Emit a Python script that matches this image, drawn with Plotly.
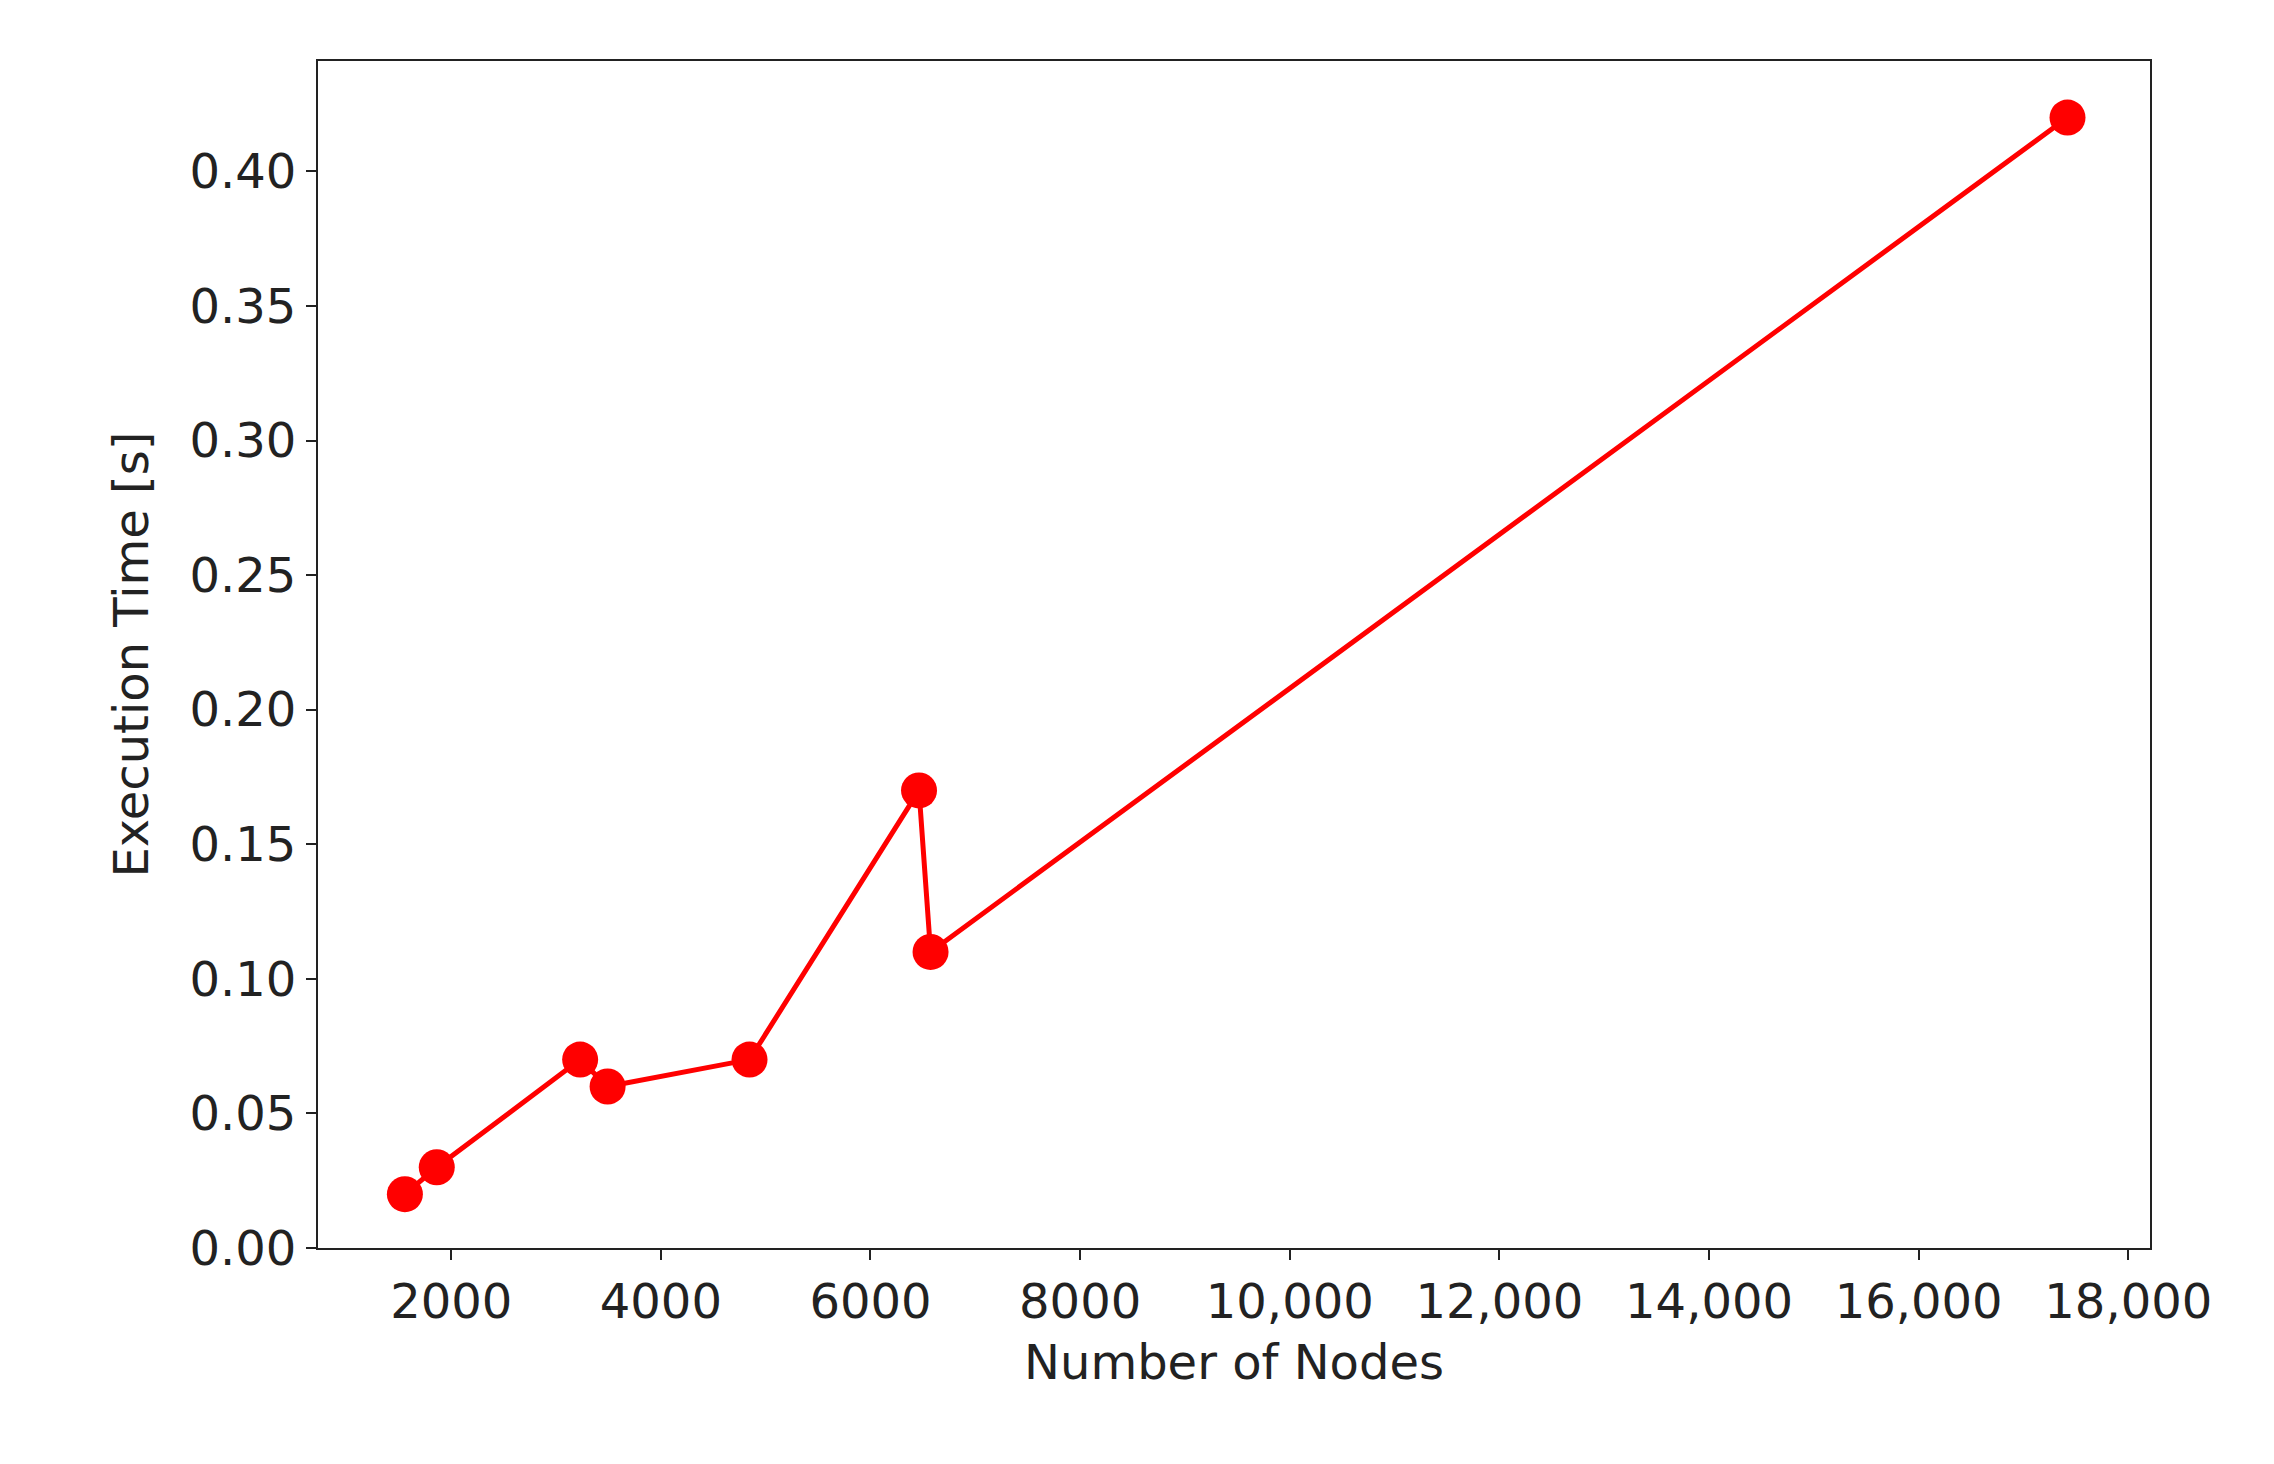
import plotly.graph_objects as go

nodes = [1558, 1862, 3230, 3492, 4846, 6463, 6573, 17420]
times = [0.02, 0.03, 0.07, 0.06, 0.07, 0.17, 0.11, 0.42]
xticks = [2000, 4000, 6000, 8000, 10000, 12000, 14000, 16000, 18000]
xticklabels = ["2000", "4000", "6000", "8000", "10,000", "12,000", "14,000", "16,000", "18,000"]
yticks = [0.0, 0.05, 0.10, 0.15, 0.20, 0.25, 0.30, 0.35, 0.40]
yticklabels = ["0.00", "0.05", "0.10", "0.15", "0.20", "0.25", "0.30", "0.35", "0.40"]

fig = go.Figure(go.Scatter(x=nodes, y=times, mode="lines+markers",
                           line=dict(color="red", width=5),
                           marker=dict(color="red", size=36)))
ax = dict(showgrid=False, zeroline=False, showline=True, mirror=True,
          linecolor="#222", linewidth=2, ticks="outside", ticklen=10,
          tickwidth=2, tickcolor="#222", tickfont=dict(size=48, color="#222"))
fig.update_layout(
    width=2274, height=1464, paper_bgcolor="white", plot_bgcolor="white",
    font=dict(family="DejaVu Sans", color="#222"),
    margin=dict(l=310, r=132, t=53, b=224), showlegend=False,
    xaxis=dict(ax, range=[729, 18207], tickvals=xticks, ticktext=xticklabels,
               title=dict(text="Number of Nodes", font=dict(size=48), standoff=18)),
    yaxis=dict(ax, range=[0, 0.441], tickvals=yticks, ticktext=yticklabels,
               title=dict(text="Execution Time [s]", font=dict(size=48), standoff=26)),
)
fig.write_html("out.html")
